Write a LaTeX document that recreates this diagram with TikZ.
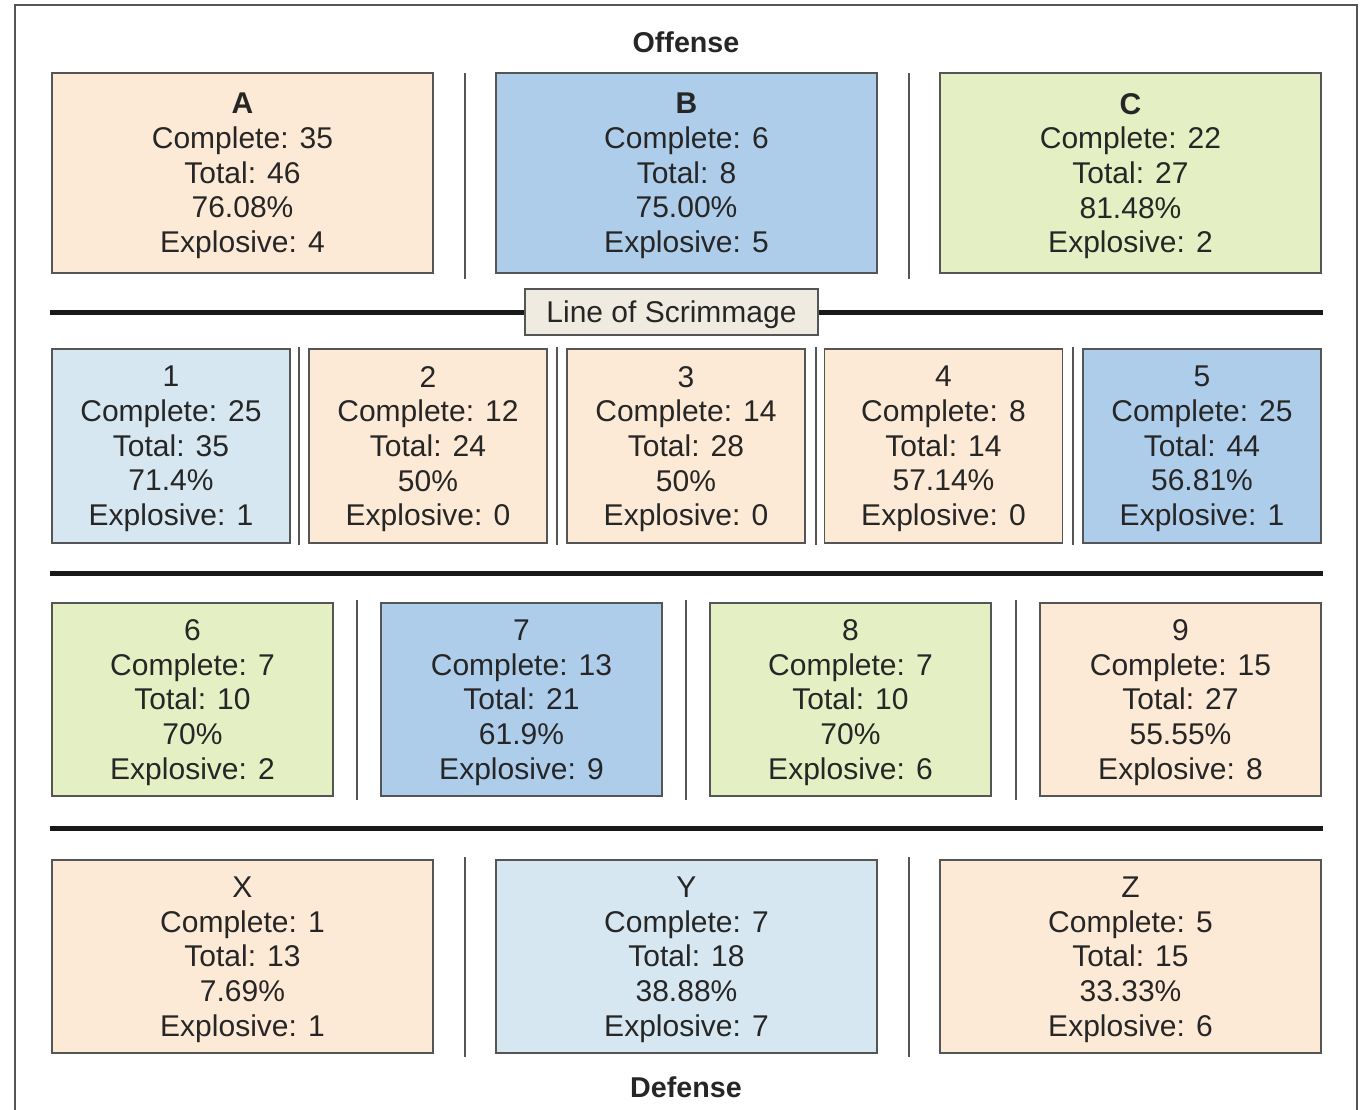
\documentclass[tikz,border=0pt]{standalone}
\usepackage{fontspec}
\setmainfont{Liberation Sans}
\definecolor{peach}{HTML}{FDEAD6}
\definecolor{midblue}{HTML}{AECDEB}
\definecolor{paleblue}{HTML}{D6E7F2}
\definecolor{lime}{HTML}{E5EFC4}
\definecolor{tagfill}{HTML}{EFEBE0}
\definecolor{ink}{HTML}{262626}
\definecolor{rim}{HTML}{555555}
\tikzset{
  card/.style={draw=rim, line width=1.1pt, inner sep=0pt, outer sep=0pt},
  cardtext/.style={inner sep=0pt, align=center, text=ink,
    font=\fontsize{22.5}{26}\selectfont},
  wide/.style={card, minimum width=285.75pt, minimum height=150pt},
  widelow/.style={card, minimum width=285.75pt, minimum height=144.75pt},
  narrow/.style={card, minimum width=178.5pt, minimum height=145.5pt},
  mid/.style={card, minimum width=210.75pt, minimum height=144.75pt},
  divider/.style={draw=rim, line width=1.3pt},
  yardline/.style={draw=black!90, line width=3.75pt},
  heading/.style={text=ink, font=\fontsize{21.5}{24}\selectfont\bfseries},
  tag/.style={draw=rim, line width=1.1pt, fill=tagfill,
    minimum width=219.75pt, minimum height=34.5pt, inner sep=0pt}
}
% a filled stat card with its five lines of text, set slightly low
\newcommand\statcard[6]{%
  \node[#4, fill=#5] (#1) at (#2,#3) {};
  \node[cardtext] (#1-txt) at ([yshift=-2.25pt]#1.center) {#6};
}
\begin{document}
\begin{tikzpicture}[x=0.75pt,y=-0.75pt]
\useasboundingbox (0,0) rectangle (1365,1110);
% outer frame
\draw[rim, line width=1.2pt] (15,5) rectangle (1357,1125);

% titles
\node[heading] (off) at (686,42) {Offense};
\node[heading] (def) at (686,1087) {Defense};

% offense row
\statcard{A}{242.5}{173}{wide}{peach}{\textbf{A}\\Complete: 35\\Total: 46\\76.08\%\\Explosive: 4}
\statcard{B}{686.5}{173}{wide}{midblue}{\textbf{B}\\Complete: 6\\Total: 8\\75.00\%\\Explosive: 5}
\statcard{C}{1130.5}{173}{wide}{lime}{\textbf{C}\\Complete: 22\\Total: 27\\81.48\%\\Explosive: 2}
\draw[divider] (465,73) -- (465,279);
\draw[divider] (909,73) -- (909,279);

% line of scrimmage
\draw[yardline] (50,312) -- (1323,312);
\node[tag] (los) at (671.5,312) {};
\node[cardtext] (los-txt) at ([yshift=-2.25pt]los.center) {Line of Scrimmage};

% second row
\statcard{z1}{171}{446}{narrow}{paleblue}{1\\Complete: 25\\Total: 35\\71.4\%\\Explosive: 1}
\statcard{z2}{428}{446}{narrow}{peach}{2\\Complete: 12\\Total: 24\\50\%\\Explosive: 0}
\statcard{z3}{686}{446}{narrow}{peach}{3\\Complete: 14\\Total: 28\\50\%\\Explosive: 0}
\statcard{z4}{943.5}{446}{narrow}{peach}{4\\Complete: 8\\Total: 14\\57.14\%\\Explosive: 0}
\statcard{z5}{1202}{446}{narrow}{midblue}{5\\Complete: 25\\Total: 44\\56.81\%\\Explosive: 1}
\foreach \sx in {299,557,816,1073}
  \draw[divider] (\sx,347) -- (\sx,545);

\draw[yardline] (50,573) -- (1323,573);

% third row
\statcard{z6}{192.5}{699.5}{mid}{lime}{6\\Complete: 7\\Total: 10\\70\%\\Explosive: 2}
\statcard{z7}{521.5}{699.5}{mid}{midblue}{7\\Complete: 13\\Total: 21\\61.9\%\\Explosive: 9}
\statcard{z8}{850.5}{699.5}{mid}{lime}{8\\Complete: 7\\Total: 10\\70\%\\Explosive: 6}
\statcard{z9}{1180.5}{699.5}{mid}{peach}{9\\Complete: 15\\Total: 27\\55.55\%\\Explosive: 8}
\foreach \sx in {357,686,1016}
  \draw[divider] (\sx,600) -- (\sx,800);

\draw[yardline] (50,828) -- (1323,828);

% defense row
\statcard{X}{242.5}{956.5}{widelow}{peach}{X\\Complete: 1\\Total: 13\\7.69\%\\Explosive: 1}
\statcard{Y}{686.5}{956.5}{widelow}{paleblue}{Y\\Complete: 7\\Total: 18\\38.88\%\\Explosive: 7}
\statcard{Z}{1130.5}{956.5}{widelow}{peach}{Z\\Complete: 5\\Total: 15\\33.33\%\\Explosive: 6}
\draw[divider] (465,857) -- (465,1057);
\draw[divider] (909,857) -- (909,1057);
\end{tikzpicture}
\end{document}
